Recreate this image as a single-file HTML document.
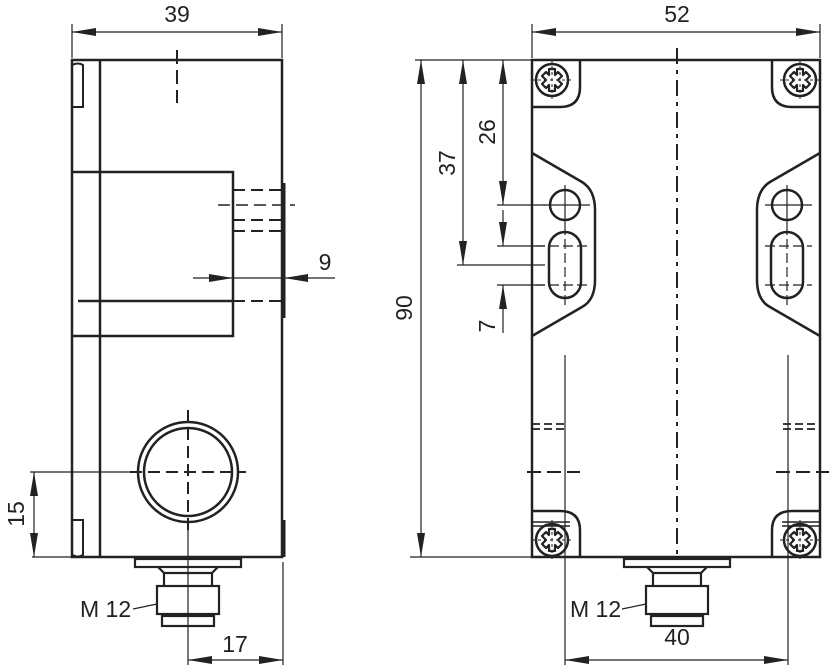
<!DOCTYPE html>
<html><head><meta charset="utf-8"><style>
html,body{margin:0;padding:0;background:#fff;}
svg{display:block;}
text{font-family:"Liberation Sans",sans-serif;font-size:23px;fill:#222;}
</style></head><body>
<svg width="831" height="672" viewBox="0 0 831 672" xmlns="http://www.w3.org/2000/svg">
<defs>
<marker id="b" viewBox="0 0 24 8" refX="24" refY="4" markerWidth="24" markerHeight="8" markerUnits="userSpaceOnUse" orient="auto-start-reverse"><path d="M0,0 L24,4 L0,8z" fill="#222"/></marker>
<g id="screw">
<circle r="16" fill="none" stroke="#222" stroke-width="2.5"/>
<path d="M-3,-11 L3,-11 L3,-5 L6,-8 L10,-4 L6,0 L10,4 L6,8 L3,5 L3,11 L-3,11 L-3,5 L-6,8 L-10,4 L-6,0 L-10,-4 L-6,-8 L-3,-5Z" fill="none" stroke="#222" stroke-width="2.2" stroke-linejoin="round"/>
<path d="M-20,0H20M0,-20V20" stroke="#222" stroke-width="1" stroke-dasharray="3,3"/>
</g>
<g id="conn" fill="none" stroke="#222" stroke-width="2.2">
<rect x="-53" y="1" width="106" height="8"/>
<path d="M-30,9 L-24,15 L-24,28 M30,9 L24,15 L24,28 M-24,15 H24"/>
<rect x="-31" y="28" width="62" height="28"/>
<rect x="-26" y="58" width="52" height="10"/>
</g>
</defs>
<g stroke="#222" fill="none" stroke-linecap="butt">
<path d="M72,60 H282 V557 H72 Z" stroke-width="2.5"/>
<path d="M100,60 V557" stroke-width="2.5"/>
<path d="M72,172 H233 V336 H72 M78,301 H233" stroke-width="2.5"/>
<path d="M284,183 V318 M284,520 V557" stroke-width="3"/>
<path d="M72,65 Q78,62 83,65 V107 H73" stroke-width="2"/>
<path d="M73,520 H83 V555 Q76,558 73,555" stroke-width="2"/>
<path d="M233,190 H282 M233,220 H282 M233,231 H282 M233,301 H282" stroke-width="2" stroke-dasharray="12,6"/>
<path d="M218,205 H295" stroke-width="1.5" stroke-dasharray="12,6"/>
<path d="M177,50 V103" stroke-width="2" stroke-dasharray="14,6"/>
<path d="M193,278 H233" stroke-width="1.2" marker-end="url(#b)"/>
<path d="M335,278 H284" stroke-width="1.2" marker-end="url(#b)"/>
<path d="M233,278 H284" stroke-width="1.2"/>
<path d="M72,58 V24 M282,58 V24" stroke-width="1.2"/>
<path d="M72,32 H282" stroke-width="1.2" marker-start="url(#b)" marker-end="url(#b)"/>
<circle cx="188" cy="472" r="50" stroke-width="2.5"/>
<circle cx="188" cy="472" r="44" stroke-width="2.5"/>
<path d="M130,472 H246 M188,410 V530" stroke-width="2" stroke-dasharray="12,6"/>
<path d="M30,472 H130" stroke-width="1.2"/>
<path d="M32,557 H72" stroke-width="1.2"/>
<path d="M34,472 V557" stroke-width="1.2" marker-start="url(#b)" marker-end="url(#b)"/>
<use href="#conn" x="188" y="558"/>
<path d="M188,530 V665" stroke-width="1.2"/>
<path d="M133,609 L157,604" stroke-width="1.2"/>
<path d="M283,562 V665" stroke-width="1.2"/>
<path d="M188,660 H283" stroke-width="1.2" marker-start="url(#b)" marker-end="url(#b)"/>

<path d="M532,60 H820 V557 H532 Z" stroke-width="2.5"/>
<path d="M532,58 V24 M820,58 V24" stroke-width="1.2"/>
<path d="M532,32 H820" stroke-width="1.2" marker-start="url(#b)" marker-end="url(#b)"/>
<path d="M677,48 V557" stroke-width="2" stroke-dasharray="16,6,4,6"/>
<path d="M580,60 V87 Q580,107 560,107 H532" stroke-width="2.5"/>
<path d="M772,60 V87 Q772,107 792,107 H820" stroke-width="2.5"/>
<path d="M580,557 V530 Q580,511 560,511 H532" stroke-width="2.5"/>
<path d="M772,557 V530 Q772,511 792,511 H820" stroke-width="2.5"/>
<path d="M532,522 H570 M532,526 H570 M782,522 H820 M782,526 H820" stroke-width="1.5"/>
<path d="M532,153 L582,182 Q595,190 595,210 V280 Q595,300 582,307 L532,336" stroke-width="2.5"/>
<path d="M820,153 L770,182 Q757,190 757,210 V280 Q757,300 770,307 L820,336" stroke-width="2.5"/>
<circle cx="565" cy="205" r="15" stroke-width="2.5"/>
<circle cx="787" cy="205" r="15" stroke-width="2.5"/>
<rect x="549" y="232" width="32" height="66" rx="16" stroke-width="2.5"/>
<rect x="771" y="232" width="32" height="66" rx="16" stroke-width="2.5"/>
<path d="M543,205 H590 M565,185 V225 M765,205 H812 M787,185 V225" stroke-width="1.2"/>
<path d="M535,246 H590 M535,285 H590 M565,225 V305 M765,246 H812 M765,285 H812 M787,225 V305" stroke-width="1.2" stroke-dasharray="10,4"/>
<path d="M415,60 H532 M410,557 H532" stroke-width="1.2"/>
<path d="M421,60 V557" stroke-width="1.2" marker-start="url(#b)" marker-end="url(#b)"/>
<path d="M463,60 V265" stroke-width="1.2" marker-start="url(#b)" marker-end="url(#b)"/>
<path d="M457,265 H545" stroke-width="1.2"/>
<path d="M503,60 V205" stroke-width="1.2" marker-start="url(#b)" marker-end="url(#b)"/>
<path d="M497,205 H545 M497,246 H545 M497,285 H545" stroke-width="1.2"/>
<path d="M503,210 V246" stroke-width="1.2" marker-end="url(#b)"/>
<path d="M503,333 V285" stroke-width="1.2" marker-end="url(#b)"/>
<path d="M532,424 H568 M532,429 H568 M783,424 H820 M783,429 H820" stroke-width="1.8" stroke-dasharray="8,4"/>
<path d="M527,472 H580 M776,472 H829" stroke-width="2" stroke-dasharray="14,6"/>
<path d="M565,355 V665 M788,355 V665" stroke-width="1.2"/>
<path d="M565,660 H788" stroke-width="1.2" marker-start="url(#b)" marker-end="url(#b)"/>
<use href="#conn" x="677" y="558"/>
<path d="M622,609 L646,604" stroke-width="1.2"/>
</g>
<use href="#screw" x="552" y="80"/>
<use href="#screw" x="800" y="80"/>
<use href="#screw" x="552" y="540"/>
<use href="#screw" x="800" y="540"/>

<text x="177" y="22" text-anchor="middle">39</text>
<text x="677" y="22" text-anchor="middle">52</text>
<text x="325" y="270" text-anchor="middle">9</text>
<text x="235" y="652" text-anchor="middle">17</text>
<text x="677" y="645" text-anchor="middle">40</text>
<text x="80" y="617">M 12</text>
<text x="570" y="617">M 12</text>
<text transform="translate(24,514) rotate(-90)" text-anchor="middle">15</text>
<text transform="translate(412,308) rotate(-90)" text-anchor="middle">90</text>
<text transform="translate(455,163) rotate(-90)" text-anchor="middle">37</text>
<text transform="translate(495,132) rotate(-90)" text-anchor="middle">26</text>
<text transform="translate(495,326) rotate(-90)" text-anchor="middle">7</text>
</svg>
</body></html>
